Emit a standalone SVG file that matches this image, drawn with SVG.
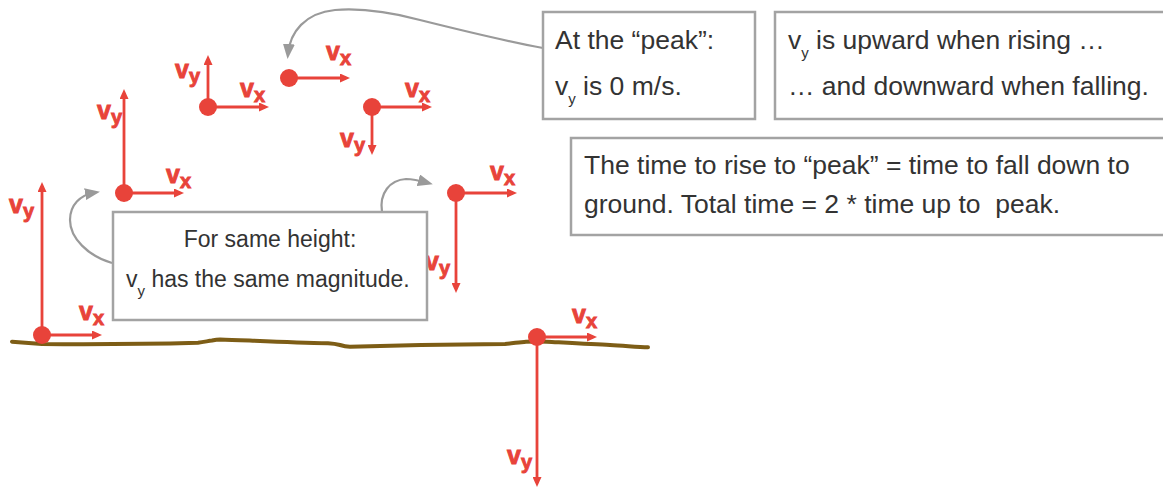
<svg xmlns="http://www.w3.org/2000/svg" width="1163" height="489" viewBox="0 0 1163 489">
<style>
.vec{stroke:#e8433a;stroke-width:2.8;fill:none;marker-end:url(#rh)}
.ball{fill:#e8433a}
.lbl{font-family:"Liberation Sans",Arial,sans-serif;font-weight:bold;font-size:25px;fill:#e8433a;stroke:#e8433a;stroke-width:0.9}
.lbl .sub{font-size:20px}
.box{fill:#fff;stroke:#a3a3a3;stroke-width:2.5}
.t{font-family:"Liberation Sans",Arial,sans-serif;font-size:26.5px;fill:#333}
.ta{font-family:"Liberation Sans",Arial,sans-serif;font-size:23px;fill:#333}
.s{font-size:15px}
.call{stroke:#9a9a9a;stroke-width:2.2;fill:none;marker-end:url(#gh)}
.ground{stroke:#7d5d16;stroke-width:4;fill:none;stroke-linejoin:round;stroke-linecap:round}
</style>
<defs>
<marker id="rh" markerUnits="userSpaceOnUse" markerWidth="10" markerHeight="9" viewBox="0 0 10 9" refX="6" refY="4.5" orient="auto">
<path d="M0,0 L10,4.5 L0,9 Z" fill="#e8433a"/>
</marker>
<marker id="gh" markerUnits="userSpaceOnUse" markerWidth="15" markerHeight="12" viewBox="0 0 15 12" refX="10" refY="6" orient="auto">
<path d="M0,0 L15,6 L0,12 Z" fill="#9a9a9a"/>
</marker>
</defs>
<rect width="1163" height="489" fill="#fff"/>

<g id="ground">
<path class="ground" d="M12,341.7 L42,344 C80,344.3 150,344 198,342.7 C204,342 208,341 212,340.5 C215,339.8 217,339.4 220,339.4 C250,340.5 290,342.5 328,343.3 C333,343.6 336,344 340,345 C343,346 346,346.7 350,346.7 C380,346 405,345.3 421,345 C460,344.6 490,344.3 505,344 C512,343.5 520,342 526,341.7 C535,341.4 542,341.4 547,341.7 C570,343 595,344.5 610,345 C625,345.8 638,347 648,347.3"/>
</g>

<g id="connectors">
<path class="call" d="M543,48 C500,40 460,30 420,20 C390,12 360,8 335,10 C305,13 290,32 288,54"/>
<path class="call" d="M112,263 C88,256 70,238 70,220 C70,205 80,195 95,192.5"/>
<path class="call" d="M382,212 C379,193 390,180 406,179 C414,179 421,181 428,183"/>
</g>

<g id="ball-launch">
<line class="vec" x1="42" y1="335" x2="42" y2="186"/>
<line class="vec" x1="42" y1="335" x2="98" y2="335"/>
<circle class="ball" cx="42" cy="335" r="9"/>
<text class="lbl" x="9" y="213">v<tspan class="sub" dy="5">y</tspan></text>
<text class="lbl" x="79" y="320">v<tspan class="sub" dy="5">x</tspan></text>
</g>

<g id="ball-rise-1">
<line class="vec" x1="124" y1="193" x2="124" y2="93"/>
<line class="vec" x1="124" y1="193" x2="180" y2="193"/>
<circle class="ball" cx="124" cy="193" r="9"/>
<text class="lbl" x="97" y="119">v<tspan class="sub" dy="5">y</tspan></text>
<text class="lbl" x="166" y="183">v<tspan class="sub" dy="5">x</tspan></text>
</g>

<g id="ball-rise-2">
<line class="vec" x1="208" y1="107" x2="208" y2="59"/>
<line class="vec" x1="208" y1="107" x2="265" y2="107"/>
<circle class="ball" cx="208" cy="107" r="9"/>
<text class="lbl" x="175" y="78">v<tspan class="sub" dy="5">y</tspan></text>
<text class="lbl" x="240" y="97">v<tspan class="sub" dy="5">x</tspan></text>
</g>

<g id="ball-peak">
<line class="vec" x1="289" y1="78" x2="346" y2="78"/>
<circle class="ball" cx="289" cy="78" r="9"/>
<text class="lbl" x="326" y="60">v<tspan class="sub" dy="5">x</tspan></text>
</g>

<g id="ball-fall-1">
<line class="vec" x1="372" y1="107" x2="372" y2="151"/>
<line class="vec" x1="372" y1="107" x2="428" y2="107"/>
<circle class="ball" cx="372" cy="107" r="9"/>
<text class="lbl" x="340" y="147">v<tspan class="sub" dy="5">y</tspan></text>
<text class="lbl" x="405" y="97">v<tspan class="sub" dy="5">x</tspan></text>
</g>

<g id="ball-fall-2">
<line class="vec" x1="456" y1="193" x2="456" y2="289"/>
<line class="vec" x1="456" y1="193" x2="513" y2="193"/>
<circle class="ball" cx="456" cy="193" r="9"/>
<text class="lbl" x="425" y="270">v<tspan class="sub" dy="5">y</tspan></text>
<text class="lbl" x="490" y="180">v<tspan class="sub" dy="5">x</tspan></text>
</g>

<g id="ball-land">
<line class="vec" x1="537" y1="337" x2="537" y2="483"/>
<line class="vec" x1="537" y1="337" x2="593" y2="337"/>
<circle class="ball" cx="537" cy="337" r="9"/>
<text class="lbl" x="507" y="464">v<tspan class="sub" dy="5">y</tspan></text>
<text class="lbl" x="572" y="323">v<tspan class="sub" dy="5">x</tspan></text>
</g>

<g id="note-same-height">
<rect class="box" x="113" y="212" width="314" height="108"/>
<text class="ta" x="270" y="247" text-anchor="middle">For same height:</text>
<text class="ta" x="126" y="287">v<tspan class="s" dy="9">y</tspan><tspan dy="-9"> has the same magnitude.</tspan></text>
</g>

<g id="note-peak">
<rect class="box" x="543" y="12" width="212" height="107"/>
<text class="t" x="555" y="49">At the “peak”:</text>
<text class="t" x="555" y="95">v<tspan class="s" dy="9">y</tspan><tspan dy="-9"> is 0 m/s.</tspan></text>
</g>

<g id="note-direction">
<rect class="box" x="775" y="12" width="400" height="107"/>
<text class="t" x="788" y="49">v<tspan class="s" dy="9">y</tspan><tspan dy="-9"> is upward when rising …</tspan></text>
<text class="t" x="788" y="95">… and downward when falling.</text>
</g>

<g id="note-time">
<rect class="box" x="571" y="138" width="604" height="97"/>
<text class="t" x="584" y="174">The time to rise to “peak” = time to fall down to</text>
<text class="t" x="584" y="213" xml:space="preserve">ground. Total time = 2 * time up to  peak.</text>
</g>
</svg>
